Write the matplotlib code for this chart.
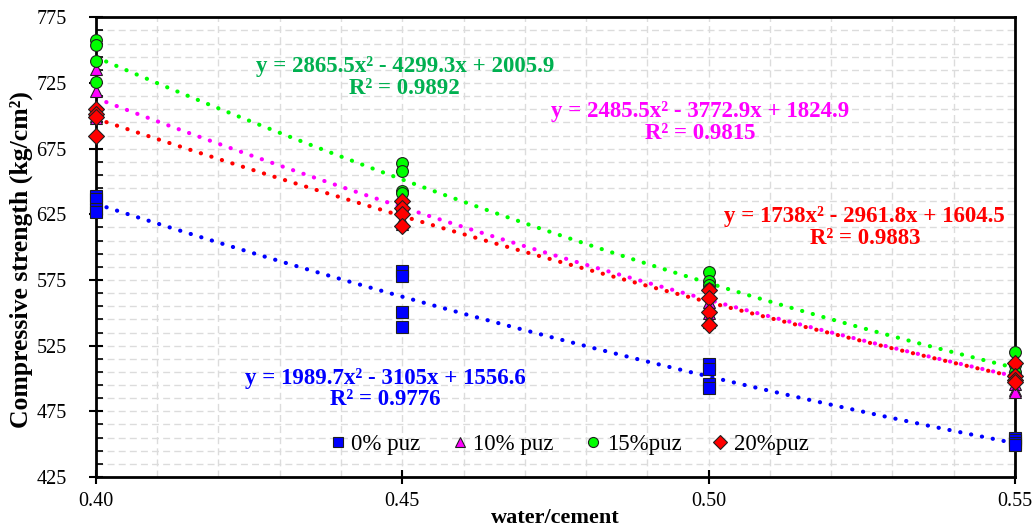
import numpy as np
import matplotlib
matplotlib.use("Agg")
import matplotlib.pyplot as plt
from matplotlib.ticker import MultipleLocator, FormatStrFormatter

plt.rcParams['font.family'] = ['Liberation Serif', 'DejaVu Serif']

# datos
wc = [0.40, 0.45, 0.50, 0.55]

puz0 = [[639, 637, 629, 627], [582, 578, 551, 539], [511, 507, 496, 493], [455, 453, 451, 449]]
puz10 = [[736, 719, 700, 698], [632, 628, 621, 618], [558, 550, 545, 543], [506, 496, 491, 490]]
puz15 = [[758, 754, 742, 726], [664, 658, 643, 641], [581, 574, 571, 568], [520, 510, 505, 502]]
puz20 = [[705, 701, 699, 685], [635, 630, 625, 616], [567, 561, 551, 541], [512, 502, 499, 497]]

# coeficientes de las lineas de tendencia (Excel)
coef0 = [1989.7, -3105, 1556.6]
coef10 = [2485.5, -3772.9, 1824.9]
coef15 = [2865.5, -4299.3, 2005.9]
coef20 = [1738, -2961.8, 1604.5]

etiquetas = ['0% puz', '10% puz', '15%puz', '20%puz']
ecuaciones = ['y = 1989.7x² - 3105x + 1556.6\nR² = 0.9776',
              'y = 2485.5x² - 3772.9x + 1824.9\nR² = 0.9815',
              'y = 2865.5x² - 4299.3x + 2005.9\nR² = 0.9892',
              'y = 1738x² - 2961.8x + 1604.5\nR² = 0.9883']
pos_texto = [(0.4472, 492), (0.4986, 695), (0.4504, 729), (0.5255, 615)]

series = [puz0, puz10, puz15, puz20]
coefs = [coef0, coef10, coef15, coef20]
colores = ['#0000FF', '#FF00FF', '#00FF00', '#FF0000']
colores_txt = ['#0000FF', '#FF00FF', '#00B050', '#FF0000']
marcadores = ['s', '^', 'o', 'D']
tamanos = [8.5, 9, 8.5, 8]

fig = plt.figure(figsize=(10.34, 5.29), dpi=100)
ax = fig.add_axes([0.0928, 0.0983, 0.8888, 0.869])

xx = np.linspace(0.40, 0.55, 200)
for s, c, col in zip(series, coefs, colores):
    ax.plot(xx, np.polyval(c, xx), color=col, lw=3,
            linestyle=(0, (0.05, 2.6)), dash_capstyle='round', zorder=2)

for s, col, m, ms, lab in zip(series, colores, marcadores, tamanos, etiquetas):
    xs = np.repeat(wc, len(s[0]))
    ys = np.array(s).ravel()
    ax.plot(xs, ys, linestyle='none', marker=m, ms=ms, color=col,
            markeredgecolor='#202020', markeredgewidth=0.8, label=lab,
            zorder=3, clip_on=False)

for t, p, col in zip(ecuaciones, pos_texto, colores_txt):
    ax.text(p[0], p[1], t, color=col, fontsize=16.5, fontweight='bold',
            ha='center', va='center', linespacing=1.05)

ax.set_xlim(0.40, 0.55)
ax.set_ylim(425, 775)
ax.xaxis.set_major_locator(MultipleLocator(0.05))
ax.xaxis.set_minor_locator(MultipleLocator(0.01))
ax.xaxis.set_major_formatter(FormatStrFormatter('%.2f'))
ax.yaxis.set_major_locator(MultipleLocator(50, offset=25))
ax.yaxis.set_minor_locator(MultipleLocator(10, offset=5))

ax.grid(which='both', color='#DCDCDC', linestyle=(0, (5, 3)), lw=1)
ax.set_axisbelow(True)
ax.tick_params(axis='both', which='major', direction='inout', length=10,
               width=1.5, labelsize=14.5, pad=6)
ax.tick_params(axis='y', which='major', pad=16)
ax.tick_params(axis='y', which='minor', direction='in', length=5, width=1.2)
ax.tick_params(axis='x', which='minor', length=0)
for sp in ax.spines.values():
    sp.set_linewidth(2)

ax.set_xlabel('water/cement', fontsize=16, fontweight='bold', labelpad=-2)
ax.set_ylabel('Compressive strength (kg/cm²)', fontsize=18.5, fontweight='bold')
ax.yaxis.set_label_coords(-0.068, 0.473)

ax.legend(loc='lower center', bbox_to_anchor=(0.512, 0.002), ncol=4, frameon=False,
          fontsize=16.5, handletextpad=0.0, columnspacing=1.1, markerscale=0.85,
          handlelength=1.2)

fig.savefig('out.png', dpi=100)
